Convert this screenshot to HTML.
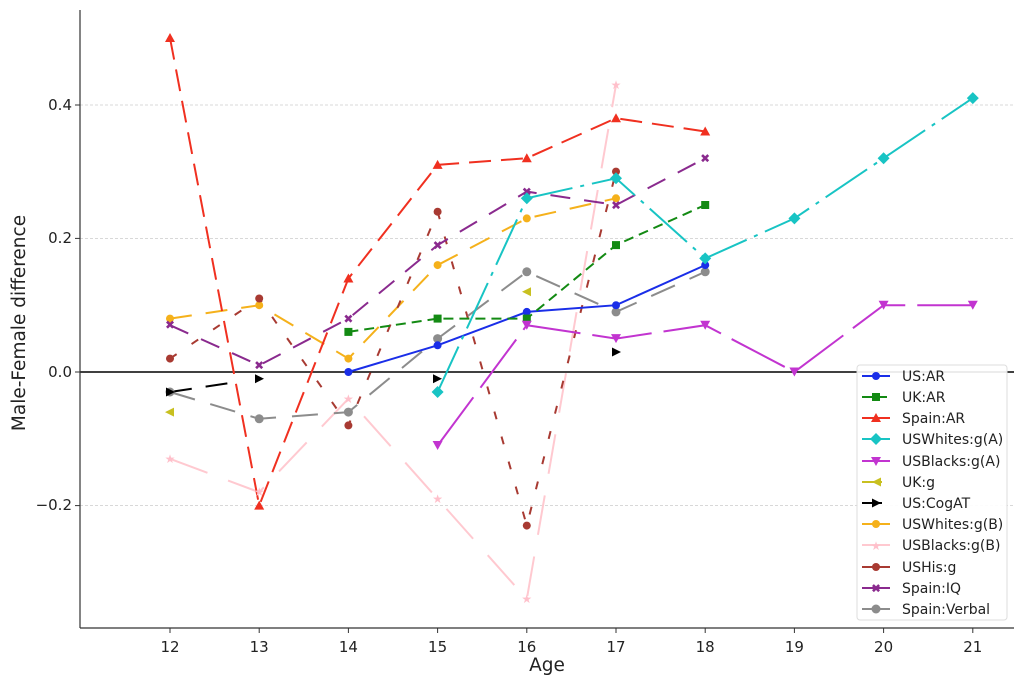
<!DOCTYPE html>
<html><head><meta charset="utf-8"><style>
body{margin:0;background:#fff}
svg{font-family:"DejaVu Sans","Liberation Sans",sans-serif}
</style></head><body>
<svg width="1024" height="684" xmlns="http://www.w3.org/2000/svg">
<rect width="1024" height="684" fill="#fff"/>
<g stroke="#ccc" stroke-width="0.8" stroke-dasharray="3,2">
<line x1="80" y1="105" x2="1014" y2="105"/>
<line x1="80" y1="238.4" x2="1014" y2="238.4"/>
<line x1="80" y1="505.6" x2="1014" y2="505.6"/>
</g>
<line x1="80" y1="372" x2="1014" y2="372" stroke="#000" stroke-width="1.5"/>
<g fill="none" stroke-width="2">
<polyline stroke="#f5b11b" stroke-dasharray="22,14" points="170,318.6 259.2,305.2 348.4,358.6 437.6,265.1 526.8,218.4 616,198.3"/>
<polyline stroke="#ffc9d0" stroke-dasharray="40,22" points="170,458.8 259.2,492.2 348.4,398.7 437.6,498.9 526.8,599.1 616,84.8"/>
<polyline stroke="#a83a32" stroke-dasharray="8,18" points="170,358.6 259.2,298.5 348.4,425.4 437.6,211.7 526.8,525.6 616,171.6"/>
<polyline stroke="#8a2a8e" stroke-dasharray="20,14" points="170,325.2 259.2,365.3 348.4,318.6 437.6,245.1 526.8,191.6 616,205 705.2,158.2"/>
<polyline stroke="#8c8c8c" stroke-dasharray="26,16" points="170,392 259.2,418.8 348.4,412.1 437.6,338.6 526.8,271.8 616,311.9 705.2,271.8"/>
<line x1="170" y1="392" x2="240" y2="381.5" stroke="#000" stroke-dasharray="22,14"/>
<polyline stroke="#1a2ee8" points="348.4,372 437.6,345.3 526.8,311.9 616,305.2 705.2,265.1"/>
<polyline stroke="#138a13" stroke-dasharray="10,6" points="348.4,331.9 437.6,318.6 526.8,318.6 616,245.1 705.2,205"/>
<polyline stroke="#f03020" stroke-dasharray="22,10" points="170,38 259.2,505.6 348.4,278.5 437.6,164.9 526.8,158.2 616,118.2 705.2,131.5"/>
<polyline stroke="#18c4c4" stroke-dasharray="50,8,4,8" points="437.6,392 526.8,198.3 616,178.3 705.2,258.4 794.4,218.4 883.6,158.2 972.8,98.1"/>
<polyline stroke="#c234d0" stroke-dasharray="60,12" points="437.6,445.5 526.8,325.2 616,338.6 705.2,325.2 794.4,372 883.6,305.2 972.8,305.2"/>
</g>
<g fill="#f5b11b"><circle cx="170" cy="318.6" r="4"/><circle cx="259.2" cy="305.2" r="4"/><circle cx="348.4" cy="358.6" r="4"/><circle cx="437.6" cy="265.1" r="4"/><circle cx="526.8" cy="218.4" r="4"/><circle cx="616" cy="198.3" r="4"/></g>
<g fill="#ffc0cb" font-size="12" text-anchor="middle"><text x="170" y="463">★</text><text x="259.2" y="496">★</text><text x="348.4" y="403">★</text><text x="437.6" y="503">★</text><text x="526.8" y="603">★</text><text x="616" y="89">★</text></g>
<g fill="#a83a32"><circle cx="170" cy="358.6" r="4"/><circle cx="259.2" cy="298.5" r="4"/><circle cx="348.4" cy="425.4" r="4"/><circle cx="437.6" cy="211.7" r="4"/><circle cx="526.8" cy="525.6" r="4"/><circle cx="616" cy="171.6" r="4"/></g>
<g fill="#8a2a8e" font-size="12" font-weight="bold" text-anchor="middle"><text x="170" y="329">✖</text><text x="259.2" y="369.5">✖</text><text x="348.4" y="323">✖</text><text x="437.6" y="249.5">✖</text><text x="526.8" y="196">✖</text><text x="616" y="209.5">✖</text><text x="705.2" y="162.5">✖</text></g>
<g fill="#8c8c8c"><circle cx="170" cy="392" r="4.5"/><circle cx="259.2" cy="418.8" r="4.5"/><circle cx="348.4" cy="412.1" r="4.5"/><circle cx="437.6" cy="338.6" r="4.5"/><circle cx="526.8" cy="271.8" r="4.5"/><circle cx="616" cy="311.9" r="4.5"/><circle cx="705.2" cy="271.8" r="4.5"/></g>
<g fill="#c8c020"><polygon points="165,412.1 174,407.6 174,416.6"/><polygon points="522,291.8 531,287.3 531,296.3"/></g>
<g fill="#000"><polygon points="175,392 166,387.5 166,396.5"/><polygon points="264,378.7 255,374.2 255,383.2"/><polygon points="442,378.7 433,374.2 433,383.2"/><polygon points="621,352 612,347.5 612,356.5"/></g>
<g fill="#1a2ee8"><circle cx="348.4" cy="372" r="4"/><circle cx="437.6" cy="345.3" r="4"/><circle cx="526.8" cy="311.9" r="4"/><circle cx="616" cy="305.2" r="4"/><circle cx="705.2" cy="265.1" r="4"/></g>
<g fill="#138a13"><rect x="344.4" y="327.9" width="8" height="8"/><rect x="433.6" y="314.6" width="8" height="8"/><rect x="522.8" y="314.6" width="8" height="8"/><rect x="612" y="241.1" width="8" height="8"/><rect x="701.2" y="201" width="8" height="8"/></g>
<g fill="#f03020"><polygon points="170,33 165,42 175,42"/><polygon points="259.2,500.6 254.2,509.6 264.2,509.6"/><polygon points="348.4,273.5 343.4,282.5 353.4,282.5"/><polygon points="437.6,159.9 432.6,168.9 442.6,168.9"/><polygon points="526.8,153.2 521.8,162.2 531.8,162.2"/><polygon points="616,113.2 611,122.2 621,122.2"/><polygon points="705.2,126.5 700.2,135.5 710.2,135.5"/></g>
<g fill="#18c4c4"><polygon points="437.6,386 443.6,392 437.6,398 431.6,392"/><polygon points="526.8,192.3 532.8,198.3 526.8,204.3 520.8,198.3"/><polygon points="616,172.3 622,178.3 616,184.3 610,178.3"/><polygon points="705.2,252.4 711.2,258.4 705.2,264.4 699.2,258.4"/><polygon points="794.4,212.4 800.4,218.4 794.4,224.4 788.4,218.4"/><polygon points="883.6,152.2 889.6,158.2 883.6,164.2 877.6,158.2"/><polygon points="972.8,92.1 978.8,98.1 972.8,104.1 966.8,98.1"/></g>
<g fill="#c234d0"><polygon points="432.6,441 442.6,441 437.6,450"/><polygon points="521.8,320.7 531.8,320.7 526.8,329.7"/><polygon points="611,334.1 621,334.1 616,343.1"/><polygon points="700.2,320.7 710.2,320.7 705.2,329.7"/><polygon points="789.4,367.5 799.4,367.5 794.4,376.5"/><polygon points="878.6,300.7 888.6,300.7 883.6,309.7"/><polygon points="967.8,300.7 977.8,300.7 972.8,309.7"/></g>
<line x1="80" y1="10" x2="80" y2="628" stroke="#333" stroke-width="1.2"/>
<line x1="80" y1="628" x2="1014" y2="628" stroke="#333" stroke-width="1.2"/>
<g stroke="#333"><line x1="170" y1="628" x2="170" y2="633"/><line x1="259.2" y1="628" x2="259.2" y2="633"/><line x1="348.4" y1="628" x2="348.4" y2="633"/><line x1="437.6" y1="628" x2="437.6" y2="633"/><line x1="526.8" y1="628" x2="526.8" y2="633"/><line x1="616" y1="628" x2="616" y2="633"/><line x1="705.2" y1="628" x2="705.2" y2="633"/><line x1="794.4" y1="628" x2="794.4" y2="633"/><line x1="883.6" y1="628" x2="883.6" y2="633"/><line x1="972.8" y1="628" x2="972.8" y2="633"/>
<line x1="75" y1="105" x2="80" y2="105"/><line x1="75" y1="238.4" x2="80" y2="238.4"/><line x1="75" y1="372" x2="80" y2="372"/><line x1="75" y1="505.6" x2="80" y2="505.6"/></g>
<g font-size="15" fill="#222" text-anchor="middle"><text x="170" y="652">12</text><text x="259.2" y="652">13</text><text x="348.4" y="652">14</text><text x="437.6" y="652">15</text><text x="526.8" y="652">16</text><text x="616" y="652">17</text><text x="705.2" y="652">18</text><text x="794.4" y="652">19</text><text x="883.6" y="652">20</text><text x="972.8" y="652">21</text></g>
<g font-size="15" fill="#222" text-anchor="end"><text x="72" y="110">0.4</text><text x="72" y="243">0.2</text><text x="72" y="377">0.0</text><text x="72" y="510">−0.2</text></g>
<text x="547" y="671" font-size="18.5" text-anchor="middle" fill="#222">Age</text>
<text transform="translate(25,323) rotate(-90)" font-size="18.5" text-anchor="middle" fill="#222">Male-Female difference</text>
<rect x="857" y="365" width="150" height="255" rx="3" fill="#fff" fill-opacity="0.9" stroke="#ddd"/>
<g font-size="14" fill="#222">
<text x="902" y="381">US:AR</text><text x="902" y="402">UK:AR</text><text x="902" y="423">Spain:AR</text><text x="902" y="444">USWhites:g(A)</text><text x="902" y="466">USBlacks:g(A)</text><text x="902" y="487">UK:g</text><text x="902" y="508">US:CogAT</text><text x="902" y="529">USWhites:g(B)</text><text x="902" y="550">USBlacks:g(B)</text><text x="902" y="572">USHis:g</text><text x="902" y="593">Spain:IQ</text><text x="902" y="614">Spain:Verbal</text>
</g>
<g stroke-width="2">
<line x1="862" y1="376" x2="890" y2="376" stroke="#1a2ee8"/><circle cx="876" cy="376" r="4" fill="#1a2ee8"/>
<line x1="862" y1="397" x2="890" y2="397" stroke="#138a13" stroke-dasharray="10,5"/><rect x="872" y="393" width="8" height="8" fill="#138a13"/>
<line x1="862" y1="418" x2="890" y2="418" stroke="#f03020"/><polygon points="876,413 871,422 881,422" fill="#f03020"/>
<line x1="862" y1="439" x2="890" y2="439" stroke="#18c4c4"/><polygon points="876,433 882,439 876,445 870,439" fill="#18c4c4"/>
<line x1="862" y1="461" x2="890" y2="461" stroke="#c234d0"/><polygon points="871,457 881,457 876,466" fill="#c234d0"/>
<line x1="862" y1="482" x2="882" y2="482" stroke="#c8c020"/><polygon points="872,482 881,477.5 881,486.5" fill="#c8c020"/>
<line x1="862" y1="503" x2="882" y2="503" stroke="#000"/><polygon points="881,503 872,498.5 872,507.5" fill="#000"/>
<line x1="862" y1="524" x2="890" y2="524" stroke="#f5b11b"/><circle cx="876" cy="524" r="4" fill="#f5b11b"/>
<line x1="862" y1="545" x2="890" y2="545" stroke="#ffc9d0"/>
<line x1="862" y1="567" x2="890" y2="567" stroke="#a83a32"/><circle cx="876" cy="567" r="4" fill="#a83a32"/>
<line x1="862" y1="588" x2="890" y2="588" stroke="#8a2a8e"/>
<line x1="862" y1="609" x2="890" y2="609" stroke="#8c8c8c"/><circle cx="876" cy="609" r="4.5" fill="#8c8c8c"/>
</g>
<text x="876" y="550" font-size="12" text-anchor="middle" fill="#ffc0cb">★</text>
<text x="876" y="592.5" font-size="12" font-weight="bold" text-anchor="middle" fill="#8a2a8e">✖</text>
</svg>
</body></html>
